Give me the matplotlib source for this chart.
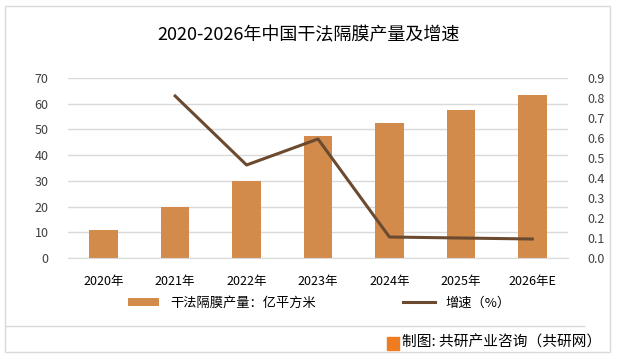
import numpy as np
import matplotlib.pyplot as plt
from matplotlib.patches import Rectangle

plt.rcParams['font.family'] = ['Noto Sans CJK SC', 'DejaVu Sans']

years = ['2020年', '2021年', '2022年', '2023年', '2024年', '2025年', '2026年E']
output = [11.0, 20.0, 29.8, 47.5, 52.5, 57.5, 63.3]
growth = [np.nan, 0.81, 0.465, 0.595, 0.105, 0.10, 0.095]

bar_color = '#D38B4C'
line_color = '#6B4A30'
grid_color = '#D9D9D9'
text_color = '#404040'

fig = plt.figure(figsize=(6.17, 3.6), dpi=100)
W, H = 617, 360

# outer frame and footer separator
fig.patches.append(Rectangle((5 / W, 1 - 352 / H), 605 / W, 346 / H, transform=fig.transFigure,
                             fill=False, edgecolor='#D9D9D9', lw=1))
fig.lines.append(plt.Line2D([5 / W, 584 / W], [1 - 326 / H, 1 - 326 / H], transform=fig.transFigure,
                            color='#D9D9D9', lw=1))

ax = fig.add_axes([68 / W, 1 - 258 / H, 500 / W, 180 / H])
x = np.arange(len(years))
bars = ax.bar(x, output, width=0.4, color=bar_color, zorder=2)
ax.set_xlim(-0.5, len(years) - 0.5)
ax.set_ylim(0, 70)
ax.set_yticks(range(0, 71, 10))
ax.yaxis.grid(True, color=grid_color, lw=1)
ax.set_axisbelow(True)
for s in ax.spines.values():
    s.set_visible(False)
ax.spines['bottom'].set_visible(True)
ax.spines['bottom'].set_color(grid_color)
ax.tick_params(length=0, labelsize=9, colors=text_color)
ax.tick_params(axis='y', pad=14)
ax.set_xticks(x)
ax.set_xticklabels(years, color='black')
ax.tick_params(axis='x', pad=12)

ax2 = ax.twinx()
ln, = ax2.plot(x, growth, color=line_color, lw=2.2, zorder=3)
ax2.set_ylim(0, 0.9)
ax2.set_yticks(np.arange(0, 0.91, 0.1))
ax2.set_yticklabels(['%.1f' % v for v in np.arange(0, 0.91, 0.1)])
for s in ax2.spines.values():
    s.set_visible(False)
ax2.tick_params(length=0, labelsize=9, colors=text_color, pad=14)

fig.text(0.5, 1 - 35 / H, '2020-2026年中国干法隔膜产量及增速', ha='center', va='center', fontsize=13)

fig.legend([bars, ln], ['干法隔膜产量：亿平方米', '增速（%）'], loc='center',
           bbox_to_anchor=(319 / W, 1 - 303 / H), ncol=2, frameon=False, fontsize=9.5,
           columnspacing=6.6, handlelength=2.4, handleheight=0.6)

fig.patches.append(Rectangle((387 / W, 1 - 350 / H), 12 / W, 13 / H, transform=fig.transFigure,
                             color='#F07C22'))
fig.text(402 / W, 1 - 343 / H, '制图: 共研产业咨询（共研网）', ha='left', va='center', fontsize=10.6)

fig.savefig('out.png', dpi=100)
